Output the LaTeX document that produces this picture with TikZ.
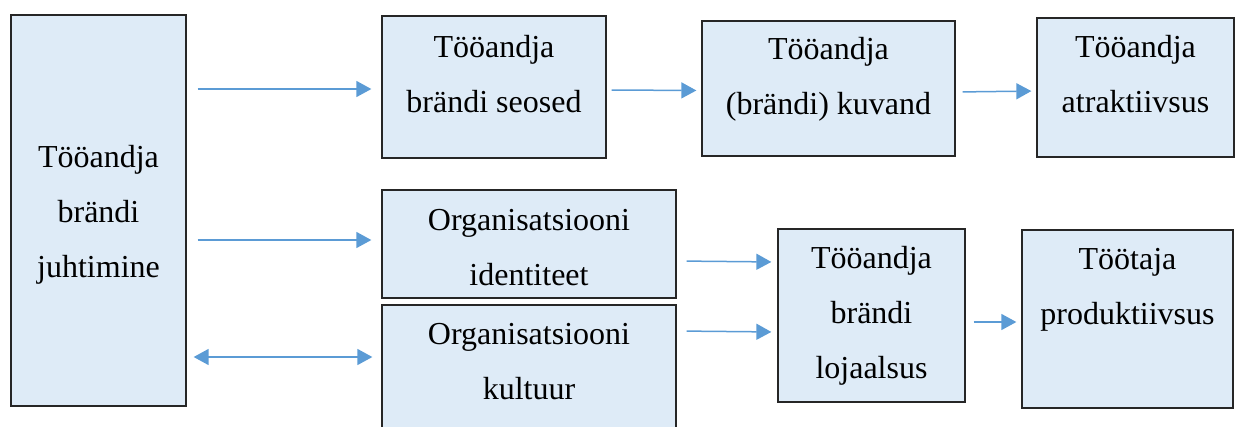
\documentclass[tikz,border=0pt]{standalone}
\usepackage{fontspec}
\setmainfont{Liberation Serif}
\usepackage{xcolor}
\usetikzlibrary{arrows.meta, positioning}

\definecolor{kastsinine}{HTML}{DEEBF7}
\definecolor{noolsinine}{HTML}{5B9BD5}
\definecolor{servjoon}{HTML}{262626}

\tikzset{
  kast/.style={draw=servjoon, line width=1.3pt, fill=kastsinine, inner sep=0pt},
  tekst/.style={font=\fontsize{32}{55}\selectfont, align=center, inner sep=0pt,
    anchor=north, execute at begin node=\strut},
  nool/.style={draw=noolsinine, line width=1.5pt, ->},
}

\begin{document}
\begin{tikzpicture}[x=1pt, y=-1pt, >={Triangle[length=15pt,width=16pt]}]
    \useasboundingbox (0,0) rectangle (1235,426);
    % kastid
    \node[kast, minimum width=175pt, minimum height=391pt,
      label={[tekst, yshift=-130.5pt]north:Tööandja\\brändi\\juhtimine}] (juht) at (98.5,210.5) {};
    \node[kast, minimum width=224pt, minimum height=142pt,
      label={[tekst, yshift=-19.5pt]north:Tööandja\\brändi seosed}] (seos) at (494,87) {};
    \node[kast, minimum width=253pt, minimum height=135pt,
      label={[tekst, yshift=-17pt]north:Tööandja\\(brändi) kuvand}] (kuvand) at (828.5,88.5) {};
    \node[kast, minimum width=197pt, minimum height=139pt,
      label={[tekst, yshift=-17.5pt]north:Tööandja\\atraktiivsus}] (atrakt) at (1135.5,87.5) {};
    \node[kast, minimum width=294pt, minimum height=108pt,
      label={[tekst, yshift=-19.5pt]north:Organisatsiooni\\identiteet}] (ident) at (529,244) {};
    \node[kast, minimum width=294pt, minimum height=140pt,
      label={[tekst, yshift=-18.5pt]north:Organisatsiooni\\kultuur}] (kultuur) at (529,375) {};
    \node[kast, minimum width=187pt, minimum height=173pt,
      label={[tekst, yshift=-17.5pt]north:Tööandja\\brändi\\lojaalsus}] (lojaal) at (871.5,315.5) {};
    \node[kast, minimum width=211pt, minimum height=178pt,
      label={[tekst, yshift=-18.5pt]north:Töötaja\\produktiivsus}] (produkt) at (1127.5,319) {};

    % nooled
    \draw[nool, shorten <=11pt, shorten >=10pt] ([yshift=-2pt]juht.east |- seos.west) -- ([yshift=-2pt]seos.west);
    \draw[nool, shorten <=5pt, shorten >=5pt] ([yshift=-3pt]seos.east) -- ([yshift=-2pt]kuvand.west);
    \draw[nool, shorten <=7pt, shorten >=5pt] ([yshift=-3.5pt]kuvand.east) -- ([yshift=-3.5pt]atrakt.west);
    \draw[nool, shorten <=11pt, shorten >=10pt] ([yshift=4pt]juht.east |- ident.west) -- ([yshift=4pt]ident.west);
    \draw[nool, <->, shorten <=7pt, shorten >=9pt] ([yshift=18pt]juht.east |- kultuur.west) -- ([yshift=18pt]kultuur.west);
    \draw[nool, shorten <=10pt, shorten >=6pt] ([yshift=-17pt]ident.east) -- ([yshift=53.5pt]lojaal.west);
    \draw[nool, shorten <=10pt, shorten >=6pt] ([yshift=44pt]kultuur.east) -- ([yshift=-16.5pt]lojaal.west);
    \draw[nool, shorten <=8pt, shorten >=5pt] ([yshift=-6.5pt]lojaal.east) -- ([yshift=-3pt]produkt.west);
\end{tikzpicture}
\end{document}
